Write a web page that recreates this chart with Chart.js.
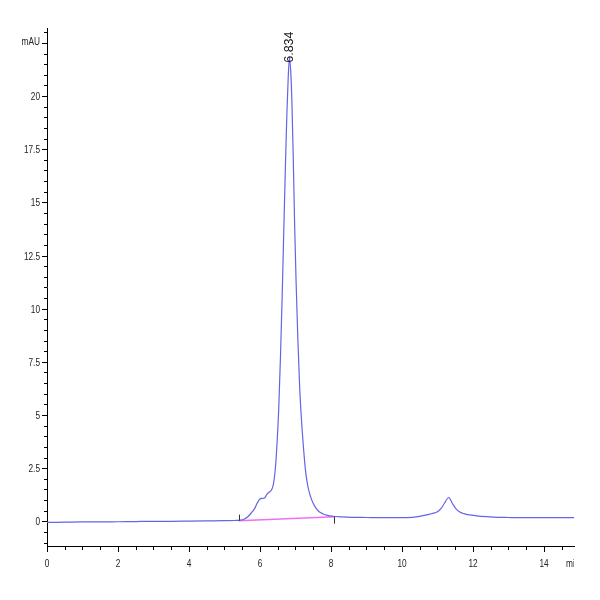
<!DOCTYPE html>
<html>
<head>
<meta charset="utf-8">
<script src="https://cdn.jsdelivr.net/npm/chart.js@4"></script>
<style>
  html, body { margin: 0; padding: 0; background: #fff; }
  #wrap { width: 600px; height: 600px; }
</style>
</head>
<body>
<div id="wrap"><canvas id="chart" width="600" height="600"></canvas></div>
<script>
// retention time (min) and signal (mAU)
const times = [0, 0.5, 1, 1.5, 2, 2.5, 3, 3.5, 4, 4.5, 5, 5.3, 5.45, 5.55, 5.65, 5.75, 5.85, 5.93,
  6.0, 6.07, 6.13, 6.2, 6.27, 6.33, 6.38, 6.43, 6.48, 6.53, 6.58, 6.63, 6.68, 6.72, 6.76, 6.8,
  6.834, 6.87, 6.9, 6.94, 6.98, 7.02, 7.07, 7.12, 7.17, 7.23, 7.29, 7.35, 7.42, 7.5, 7.58, 7.67,
  7.77, 7.9, 8.05, 8.3, 8.6, 9.0, 9.5, 10.0, 10.3, 10.5, 10.7, 10.85, 11.0, 11.1, 11.2, 11.32,
  11.42, 11.52, 11.62, 11.75, 11.9, 12.1, 12.4, 12.7, 13.0, 13.5, 14.0, 14.5, 14.85];
const signal = [-0.05, -0.04, -0.03, -0.03, -0.02, -0.01, 0.0, 0.0, 0.01, 0.02, 0.03, 0.04, 0.06, 0.1, 0.2, 0.38, 0.6, 0.88,
  1.05, 1.08, 1.1, 1.28, 1.38, 1.48, 1.75, 2.4, 3.6, 5.3, 7.8, 10.8, 14.2, 16.8, 19.2, 21.0,
  21.8, 21.1, 19.8, 17.0, 13.8, 11.2, 8.5, 6.3, 4.8, 3.4, 2.3, 1.65, 1.2, 0.85, 0.62, 0.45,
  0.36, 0.28, 0.24, 0.21, 0.19, 0.18, 0.17, 0.17, 0.19, 0.23, 0.3, 0.37, 0.45, 0.6, 0.85, 1.12,
  0.85, 0.6, 0.45, 0.36, 0.3, 0.26, 0.22, 0.19, 0.18, 0.17, 0.17, 0.17, 0.17];

// integration baseline of the main peak
const baseTimes = [5.4, 8.1];
const baseValues = [0.03, 0.22];

// peak annotation
const peakTimes = [6.834];
const peakValues = [21.8];
const peakLabels = ["6.834"];

// axis ticks
const xMajorTicks = [0, 2, 4, 6, 8, 10, 12, 14];
const xMajorLabels = ["0", "2", "4", "6", "8", "10", "12", "14"];
const yMajorTicks = [0, 2.5, 5, 7.5, 10, 12.5, 15, 17.5, 20];
const yMajorLabels = ["0", "2.5", "5", "7.5", "10", "12.5", "15", "17.5", "20"];
const yUnitTick = 22.5;
const yUnitLabel = "mAU";
const xUnitLabel = "min";

const FONT = "'Liberation Sans', Arial, sans-serif";
const NARROW = 0.72; // squeeze labels to look like a narrow face

function near(a, b) { return Math.abs(a - b) < 1e-6; }

function minorTicks(from, to, step) {
  const out = [];
  for (let i = Math.round(from / step); i * step <= to + 1e-9; i++) out.push({ value: +(i * step).toFixed(4) });
  return out;
}

// text squeezed horizontally, anchored at (x, y)
function narrowText(ctx, txt, x, y, align) {
  ctx.save();
  ctx.translate(x, y);
  ctx.scale(NARROW, 1);
  ctx.textAlign = align;
  ctx.fillText(txt, 0, 0);
  ctx.restore();
}

const axesAndMarks = {
  id: "axesAndMarks",
  afterDraw(chart) {
    const ctx = chart.ctx;
    const xs = chart.scales.x, ys = chart.scales.y;
    const area = chart.chartArea;
    ctx.save();
    ctx.strokeStyle = "#000";
    ctx.lineWidth = 1;
    ctx.fillStyle = "#222";
    ctx.font = "11.5px " + FONT;
    ctx.textBaseline = "middle";
    // y tick marks and labels
    ys.ticks.forEach(t => {
      const py = Math.round(ys.getPixelForValue(t.value)) + 0.5;
      const mi = yMajorTicks.findIndex(v => near(v, t.value));
      const unit = near(t.value, yUnitTick);
      ctx.beginPath();
      ctx.moveTo(area.left, py);
      ctx.lineTo(area.left - (mi >= 0 || unit ? 5 : 3), py);
      ctx.stroke();
      if (mi >= 0) narrowText(ctx, yMajorLabels[mi], area.left - 7, py, "right");
      if (unit) narrowText(ctx, yUnitLabel, area.left - 7, py - 2, "right");
    });
    // x tick marks and labels
    xs.ticks.forEach(t => {
      const px = Math.round(xs.getPixelForValue(t.value)) + 0.5;
      const mi = xMajorTicks.findIndex(v => near(v, t.value));
      ctx.beginPath();
      ctx.moveTo(px, area.bottom);
      ctx.lineTo(px, area.bottom + (mi >= 0 ? 6 : 4));
      ctx.stroke();
      if (mi >= 0) narrowText(ctx, xMajorLabels[mi], px - 0.5, area.bottom + 18, "center");
    });
    // unit label at the end of the time axis, clipped
    ctx.save();
    ctx.beginPath();
    ctx.rect(0, 0, area.right, chart.height);
    ctx.clip();
    narrowText(ctx, xUnitLabel, area.right - 8, area.bottom + 18, "left");
    ctx.restore();
    // integration start / end marks
    ctx.strokeStyle = "#333";
    baseTimes.forEach((t, i) => {
      const px = Math.round(xs.getPixelForValue(t)) + 0.5;
      const py = ys.getPixelForValue(baseValues[i]);
      ctx.beginPath();
      if (i === 0) { ctx.moveTo(px, py); ctx.lineTo(px, py - 6); }
      else { ctx.moveTo(px, py); ctx.lineTo(px, py + 7); }
      ctx.stroke();
    });
    // peak retention time label, vertical
    ctx.fillStyle = "#1a1a1a";
    ctx.font = "12.5px " + FONT;
    ctx.textAlign = "left";
    peakTimes.forEach((t, i) => {
      const px = xs.getPixelForValue(t);
      const py = ys.getPixelForValue(peakValues[i]);
      ctx.save();
      ctx.translate(px, py + 5);
      ctx.rotate(-Math.PI / 2);
      ctx.fillText(peakLabels[i], 0, 0);
      ctx.restore();
    });
    ctx.restore();
  }
};

new Chart(document.getElementById("chart"), {
  type: "line",
  data: {
    datasets: [
      {
        label: "signal",
        data: times.map((t, i) => ({ x: t, y: signal[i] })),
        borderColor: "#6464e6",
        borderWidth: 1.2,
        pointRadius: 0,
        tension: 0.3,
        cubicInterpolationMode: "monotone"
      },
      {
        label: "baseline",
        data: baseTimes.map((t, i) => ({ x: t, y: baseValues[i] })),
        borderColor: "#f070f0",
        borderWidth: 1.5,
        pointRadius: 0
      }
    ]
  },
  options: {
    responsive: false,
    animation: false,
    devicePixelRatio: 1,
    layout: { padding: { top: 28, right: 26, left: 0, bottom: 0 } },
    plugins: { legend: { display: false }, tooltip: { enabled: false } },
    scales: {
      x: {
        type: "linear",
        min: 0,
        max: 14.85,
        grid: { display: false },
        border: { display: true, color: "#000", width: 1 },
        afterBuildTicks: s => { s.ticks = minorTicks(0, 14.85, 0.5); },
        afterFit: s => { s.height = 54; },
        ticks: { display: false, autoSkip: false }
      },
      y: {
        type: "linear",
        min: -1.16,
        max: 23.2,
        grid: { display: false },
        border: { display: true, color: "#000", width: 1 },
        afterBuildTicks: s => { s.ticks = minorTicks(-1.0, 23.0, 0.5); },
        afterFit: s => { s.width = 47; },
        ticks: { display: false, autoSkip: false }
      }
    }
  },
  plugins: [axesAndMarks]
});
</script>
</body>
</html>
